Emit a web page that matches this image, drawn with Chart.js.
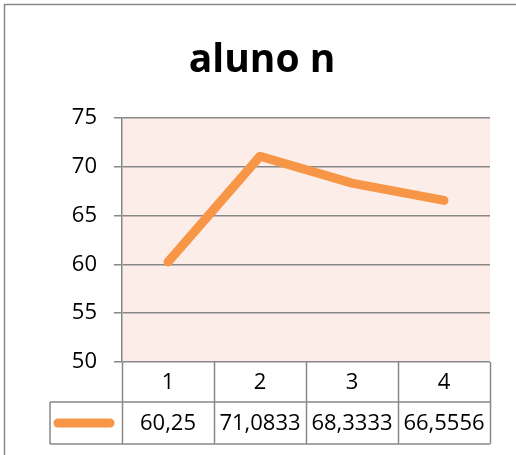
<!DOCTYPE html>
<html>
<head>
<meta charset="utf-8">
<script src="https://cdn.jsdelivr.net/npm/chart.js@4/dist/chart.umd.min.js"></script>
<style>
html,body{margin:0;padding:0;background:#fff;}
canvas{display:block;}
</style>
</head>
<body>
<canvas id="c" width="516" height="455"></canvas>
<script>
const chartTitle = 'aluno n';
const categories = ['1', '2', '3', '4'];
const values = [60.25, 71.0833, 68.3333, 66.5556];
const yMin = 50, yMax = 75, yStep = 5;

const FONT = "'Open Sans', sans-serif";
const LINE_COLOR = '#F79646';
const GRID_COLOR = '#888888';
const PLOT_BG = '#FCEDE8';

function fmt(v) { return String(v).replace('.', ','); }

const bgPlugin = {
  id: 'bg',
  beforeDraw(chart) {
    const {ctx, chartArea: a, width, height} = chart;
    ctx.save();
    ctx.fillStyle = '#fff';
    ctx.fillRect(0, 0, width, height);
    ctx.fillStyle = PLOT_BG;
    ctx.fillRect(a.left, a.top, a.right - a.left, a.bottom - a.top);
    // outer chart border (left + top visible)
    ctx.strokeStyle = GRID_COLOR;
    ctx.lineWidth = 1.5;
    ctx.beginPath();
    ctx.moveTo(4.5, height);
    ctx.lineTo(4.5, 4.5);
    ctx.lineTo(width, 4.5);
    ctx.stroke();
    // title
    ctx.fillStyle = '#000';
    ctx.textAlign = 'center';
    ctx.textBaseline = 'alphabetic';
    ctx.font = "bold 39px " + FONT;
    ctx.fillText(chartTitle, 262, 72);
    ctx.restore();
  }
};

const tablePlugin = {
  id: 'dataTable',
  afterDraw(chart) {
    const {ctx, chartArea: a} = chart;
    const xs = chart.scales.x;
    const n = categories.length;
    const step = (a.right - a.left) / n;
    const row1Top = a.bottom, row1Bot = a.bottom + 40, row2Bot = a.bottom + 82;
    const keyLeft = 50;
    ctx.save();
    ctx.strokeStyle = GRID_COLOR;
    ctx.lineWidth = 1.5;
    ctx.beginPath();
    ctx.moveTo(keyLeft, row1Bot); ctx.lineTo(a.right, row1Bot);
    ctx.moveTo(keyLeft, row2Bot); ctx.lineTo(a.right, row2Bot);
    ctx.moveTo(keyLeft, row1Bot); ctx.lineTo(keyLeft, row2Bot);
    for (let i = 0; i <= n; i++) {
      const x = Math.round(a.left + i * step) + 0.5;
      ctx.moveTo(x, row1Top); ctx.lineTo(x, row2Bot);
    }
    ctx.stroke();
    // legend key
    ctx.strokeStyle = LINE_COLOR;
    ctx.lineWidth = 9;
    ctx.lineCap = 'round';
    ctx.beginPath();
    ctx.moveTo(58, (row1Bot + row2Bot) / 2);
    ctx.lineTo(110, (row1Bot + row2Bot) / 2);
    ctx.stroke();
    // text
    ctx.fillStyle = '#000';
    ctx.textAlign = 'center';
    ctx.textBaseline = 'middle';
    ctx.font = "22px " + FONT;
    categories.forEach((c, i) => {
      const x = xs.getPixelForValue(i);
      ctx.fillText(c, x, (row1Top + row1Bot) / 2 + 1);
      ctx.fillText(fmt(values[i]), x, (row1Bot + row2Bot) / 2 + 1);
    });
    ctx.restore();
  }
};

function build() {
  new Chart(document.getElementById('c'), {
    type: 'line',
    data: {
      labels: categories,
      datasets: [{
        label: chartTitle,
        data: values,
        borderColor: LINE_COLOR,
        borderWidth: 9,
        borderCapStyle: 'round',
        borderJoinStyle: 'round',
        pointRadius: 0,
        pointHoverRadius: 0,
        tension: 0,
        fill: false
      }]
    },
    options: {
      responsive: false,
      animation: false,
      devicePixelRatio: 1,
      layout: {padding: {top: 118, right: 26, bottom: 0, left: 0}},
      plugins: {
        legend: {display: false},
        tooltip: {enabled: false},
        title: {display: false}
      },
      scales: {
        x: {
          type: 'category',
          offset: true,
          ticks: {display: false},
          grid: {display: false},
          border: {display: false},
          afterFit(s) { s.height = 93; }
        },
        y: {
          min: yMin, max: yMax,
          ticks: {stepSize: yStep, color: '#000', font: {family: FONT, size: 22}, padding: 17},
          grid: {color: GRID_COLOR, lineWidth: 1.5, tickLength: 8},
          border: {display: true, color: GRID_COLOR, width: 1.5},
          afterFit(s) { s.width = 122; }
        }
      }
    },
    plugins: [bgPlugin, tablePlugin]
  });
}

if (document.fonts && document.fonts.load) {
  Promise.all([
    document.fonts.load("22px 'Open Sans'"),
    document.fonts.load("bold 39px 'Open Sans'")
  ]).then(build, build);
} else {
  build();
}
</script>
</body>
</html>
